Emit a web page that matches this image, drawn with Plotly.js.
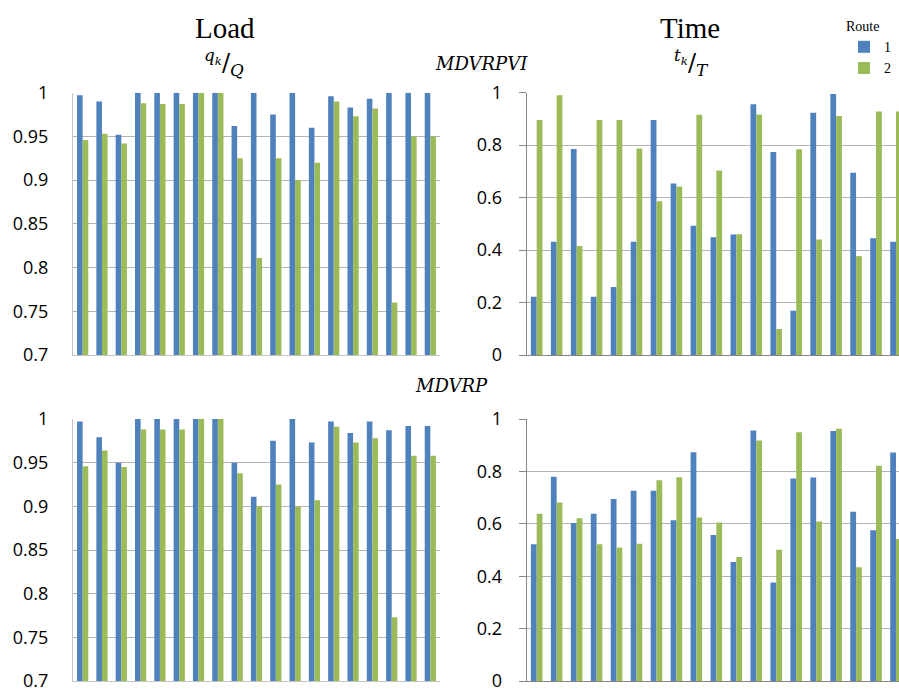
<!DOCTYPE html>
<html><head><meta charset="utf-8">
<script src="https://cdn.plot.ly/plotly-3.0.1.min.js"></script>
<style>html,body{margin:0;padding:0;background:#fff}</style>
</head><body><div id="chart" style="width:899px;height:690px"></div>
<script>
const customers = ['1','2','3','4','5','6','7','8','9','10','11','12','13','14','15','16','17','18','19'];

// MDVRPVI
const loadVI_r1 = [0.997,0.990,0.952,1,1,1,1,1,0.962,1,0.975,1,0.960,0.996,0.983,0.993,1,1,1];
const loadVI_r2 = [0.946,0.953,0.942,0.988,0.987,0.987,1,1,0.925,0.811,0.925,0.900,0.920,0.990,0.973,0.982,0.760,0.950,0.950];
const timeVI_r1 = [0.222,0.432,0.785,0.222,0.259,0.432,0.896,0.654,0.493,0.449,0.459,0.956,0.774,0.169,0.924,0.995,0.695,0.445,0.432];
const timeVI_r2 = [0.896,0.990,0.416,0.896,0.896,0.787,0.586,0.642,0.916,0.703,0.460,0.917,0.099,0.784,0.440,0.911,0.377,0.928,0.928];

// MDVRP
const loadP_r1 = [0.997,0.979,0.950,1,1,1,1,1,0.950,0.911,0.975,1,0.973,0.997,0.984,0.997,0.987,0.992,0.992];
const loadP_r2 = [0.946,0.964,0.945,0.988,0.988,0.988,1,1,0.938,0.900,0.925,0.900,0.907,0.991,0.973,0.978,0.773,0.958,0.958];
const timeP_r1 = [0.522,0.780,0.603,0.638,0.695,0.726,0.726,0.614,0.873,0.557,0.454,0.956,0.376,0.773,0.777,0.954,0.646,0.575,0.872];
const timeP_r2 = [0.638,0.681,0.621,0.522,0.510,0.524,0.766,0.778,0.624,0.605,0.473,0.918,0.501,0.949,0.609,0.963,0.434,0.822,0.542];

const routeNames = ['1','2'];
const loadTickVals = [0.7,0.75,0.8,0.85,0.9,0.95,1];
const loadTickText = ['0.7','0.75','0.8','0.85','0.9','0.95','1'];
const timeTickVals = [0,0.2,0.4,0.6,0.8,1];
const timeTickText = ['0','0.2','0.4','0.6','0.8','1'];

const BLUE = '#4F81BD', GREEN = '#9BBB59';

function bar(y, name, color, xa, ya, show) {
  return {type:'bar', x:customers, y:y, name:name, legendgroup:name, showlegend:show,
    marker:{color:color, line:{width:0}}, xaxis:xa, yaxis:ya, hoverinfo:'y'};
}

const data = [
  bar(loadVI_r1, routeNames[0], BLUE, 'x', 'y', true),
  bar(loadVI_r2, routeNames[1], GREEN, 'x', 'y', true),
  bar(timeVI_r1, routeNames[0], BLUE, 'x2', 'y2', false),
  bar(timeVI_r2, routeNames[1], GREEN, 'x2', 'y2', false),
  bar(loadP_r1, routeNames[0], BLUE, 'x3', 'y3', false),
  bar(loadP_r2, routeNames[1], GREEN, 'x3', 'y3', false),
  bar(timeP_r1, routeNames[0], BLUE, 'x4', 'y4', false),
  bar(timeP_r2, routeNames[1], GREEN, 'x4', 'y4', false)
];

const tickFont = {family:'Open Sans, sans-serif', size:18, color:'#000'};
const leftDom = [73/899, 440/899];
const rightDom = [526.7/899, 1];
const topDom = [1-355/690, 1-92.7/690];
const botDom = [1-681/690, 1-419/690];

function xax(dom, anchor, rng, lc) {
  return {domain:dom, anchor:anchor, type:'category', range:rng, showticklabels:false,
    showgrid:false, zeroline:false, showline:true, linecolor:lc, linewidth:1, ticks:'', fixedrange:true};
}
function yLoad(dom, anchor) {
  return {domain:dom, anchor:anchor, range:[0.7,1], tickvals:loadTickVals, ticktext:loadTickText,
    tickfont:tickFont, showgrid:true, gridcolor:'#b4b4b4', gridwidth:1, zeroline:false,
    showline:true, linecolor:'#c4c4c4', linewidth:1, ticks:'', ticklabelstandoff:20,
    ticklabeloverflow:'allow', fixedrange:true};
}
function yTime(dom, anchor) {
  return {domain:dom, anchor:anchor, range:[0,1], tickvals:timeTickVals, ticktext:timeTickText,
    tickfont:tickFont, showgrid:true, gridcolor:'#b4b4b4', gridwidth:1, zeroline:false,
    showline:true, linecolor:'#868686', linewidth:1, ticks:'outside', ticklen:7, tickcolor:'#868686',
    ticklabelstandoff:13, ticklabeloverflow:'allow', fixedrange:true};
}

const serif = 'Liberation Serif, serif';
const mathF = 'DejaVu Serif, serif';
function ann(text, px, py, size, fam) {
  return {text:text, x:px/899, y:1-py/690, xref:'paper', yref:'paper', showarrow:false,
    xanchor:'center', yanchor:'middle', font:{family:fam, size:size, color:'#000'}};
}

const layout = {
  width:899, height:690, margin:{l:0,r:0,t:0,b:0},
  paper_bgcolor:'#fff', plot_bgcolor:'#fff',
  barmode:'group', bargap:0.42, bargroupgap:0,
  xaxis: xax(leftDom, 'y', [-0.5,18.5], '#c4c4c4'),
  yaxis: yLoad(topDom, 'x'),
  xaxis2: xax(rightDom, 'y2', [-0.5,18.15], '#868686'),
  yaxis2: yTime(topDom, 'x2'),
  xaxis3: xax(leftDom, 'y3', [-0.5,18.5], '#c4c4c4'),
  yaxis3: yLoad(botDom, 'x3'),
  xaxis4: xax(rightDom, 'y4', [-0.5,18.15], '#868686'),
  yaxis4: yTime(botDom, 'x4'),
  legend:{x:844/899, xanchor:'left', y:1-13/690, yanchor:'top', bgcolor:'rgba(0,0,0,0)',
    title:{text:'Route', side:'top', font:{family:serif, size:14, color:'#000'}},
    font:{family:serif, size:14, color:'#000'}, tracegroupgap:0, itemwidth:30},
  annotations:[
    ann('Load', 225, 28, 29, serif),
    ann('Time', 690, 28, 29, serif),
    ann('<sup><i>q<sub>k</sub></i></sup>/<sub><i>Q</i></sub>', 224, 62, 24, mathF),
    ann('<sup><i>t<sub>k</sub></i></sup>/<sub><i>T</i></sub>', 691, 62, 24, mathF),
    ann('<i>MDVRPVI</i>', 481, 63, 18, mathF),
    ann('<i>MDVRP</i>', 452, 385, 18, mathF)
  ]
};

Plotly.newPlot('chart', data, layout, {staticPlot:true, displayModeBar:false});
</script></body></html>
